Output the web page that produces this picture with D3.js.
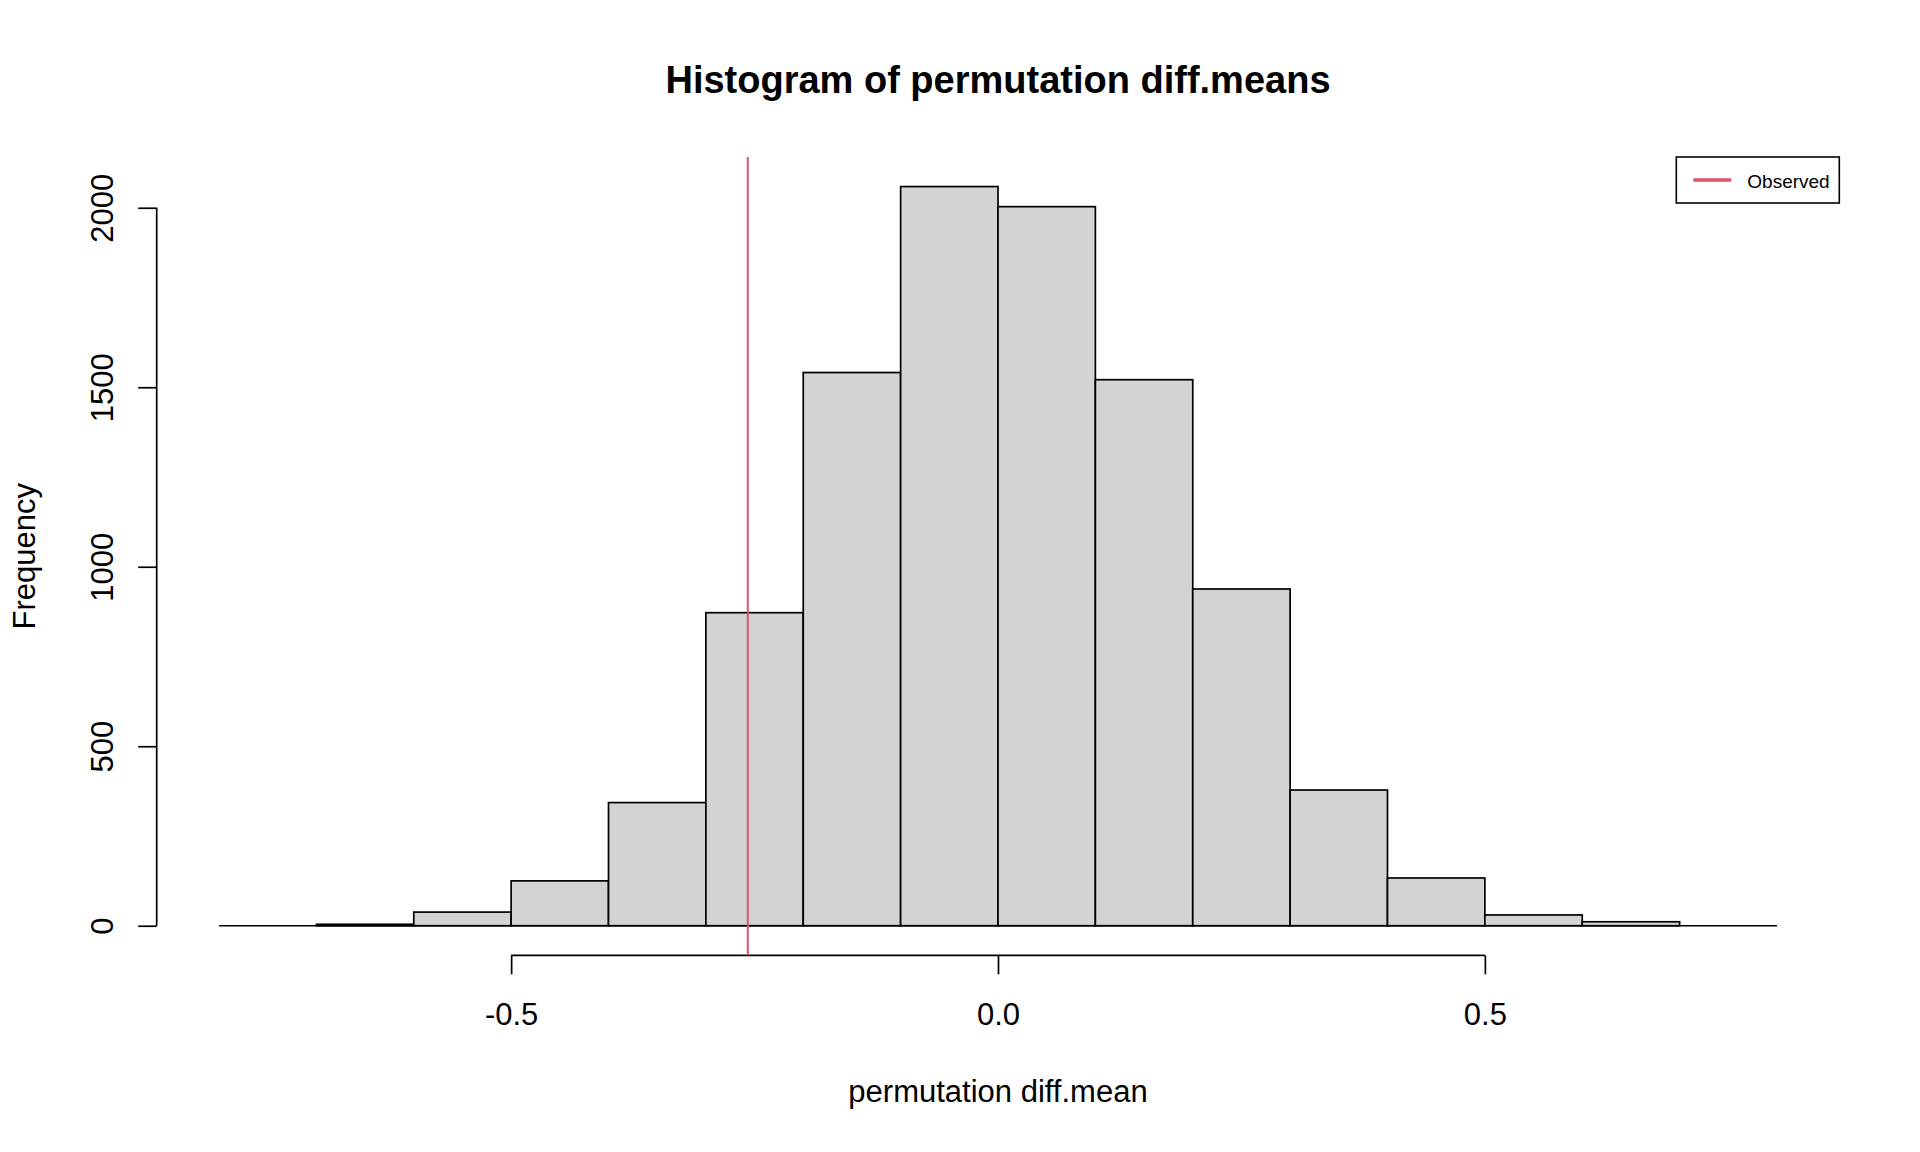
<!doctype html>
<html>
  <head>
    <script src="https://cdnjs.cloudflare.com/ajax/libs/d3/7.8.5/d3.min.js"></script>
    <style>
      body { margin: 0; background: #fff; }
      text { font-family: "Liberation Sans", Arial, sans-serif; fill: #000; }
    </style>
  </head>
  <body>
    <svg width="1920" height="1152"></svg>
    <script>
        // histogram bins (left edges, width 0.1) and counts
        var binStarts = [-0.7, -0.6, -0.5, -0.4, -0.3, -0.2, -0.1, 0.0, 0.1, 0.2, 0.3, 0.4, 0.5, 0.6];
        var counts = [4, 38, 125, 343, 872, 1541, 2059, 2003, 1521, 938, 378, 133, 30, 11];
        var binWidth = 0.1;
        var observed = -0.257;

        var xTicks = [-0.5, 0.0, 0.5];
        var yTicks = [0, 500, 1000, 1500, 2000];
        var xLim = [-0.8, 0.8];

        var svg = d3.select("svg");

        // plot region, R style 4% extension of the limits
        var pLeft = 156.7, pRight = 1839.3, pTop = 157, pBottom = 955.3;
        var xPad = (xLim[1] - xLim[0]) * 0.04;
        var yMax = d3.max(counts);
        var yPad = yMax * 0.04;

        var xScale = d3.scaleLinear().domain([xLim[0] - xPad, xLim[1] + xPad]).range([pLeft, pRight]);
        var yScale = d3.scaleLinear().domain([-yPad, yMax + yPad]).range([pBottom, pTop]);

        // bars
        svg.append("g")
            .selectAll("rect")
            .data(counts)
            .enter()
            .append("rect")
            .attr("x", (d, i) => xScale(binStarts[i]))
            .attr("width", (d, i) => xScale(binStarts[i] + binWidth) - xScale(binStarts[i]))
            .attr("y", d => yScale(d))
            .attr("height", d => yScale(0) - yScale(d))
            .style("fill", "#D3D3D3")
            .style("stroke", "#000")
            .style("stroke-width", 1.7);

        // baseline
        svg.append("line")
            .attr("x1", xScale(xLim[0])).attr("x2", xScale(xLim[1]))
            .attr("y1", yScale(0)).attr("y2", yScale(0))
            .style("stroke", "#000").style("stroke-width", 1.7);

        // x axis
        var xAxis = d3.axisBottom(xScale)
            .tickValues(xTicks)
            .tickFormat(d => d.toFixed(1))
            .tickSize(19)
            .tickPadding(29);

        var gx = svg.append("g")
            .attr("transform", "translate(0," + pBottom + ")")
            .call(xAxis);
        gx.select(".domain").remove();
        gx.selectAll("line").style("stroke-width", 1.7);
        gx.selectAll("text").style("font-size", "31px").attr("fill", "#000");
        gx.append("line")
            .attr("x1", xScale(xTicks[0])).attr("x2", xScale(xTicks[xTicks.length - 1]))
            .style("stroke", "#000").style("stroke-width", 1.7);

        // y axis
        var yAxis = d3.axisLeft(yScale)
            .tickValues(yTicks)
            .tickFormat(d => String(d))
            .tickSize(18.5);

        var gy = svg.append("g")
            .attr("transform", "translate(" + pLeft + ",0)")
            .call(yAxis);
        gy.select(".domain").remove();
        gy.selectAll("line").style("stroke-width", 1.7);
        gy.selectAll("text")
            .attr("x", null)
            .attr("dy", null)
            .attr("text-anchor", "middle")
            .attr("transform", "translate(-44,0) rotate(-90)")
            .attr("fill", "#000")
            .style("font-size", "31px");
        gy.append("line")
            .attr("y1", yScale(yTicks[0])).attr("y2", yScale(yTicks[yTicks.length - 1]))
            .style("stroke", "#000").style("stroke-width", 1.7);

        // observed value
        svg.append("line")
            .attr("x1", xScale(observed)).attr("x2", xScale(observed))
            .attr("y1", pTop).attr("y2", pBottom)
            .style("stroke", "#DF536B").style("stroke-width", 2);

        // titles
        var midX = (pLeft + pRight) / 2;
        svg.append("text")
            .attr("x", midX).attr("y", 93)
            .attr("text-anchor", "middle")
            .style("font-size", "38px").style("font-weight", "bold")
            .text("Histogram of permutation diff.means");

        svg.append("text")
            .attr("x", midX).attr("y", 1102)
            .attr("text-anchor", "middle")
            .style("font-size", "31px")
            .text("permutation diff.mean");

        svg.append("text")
            .attr("transform", "translate(35," + (pTop + pBottom) / 2 + ") rotate(-90)")
            .attr("text-anchor", "middle")
            .style("font-size", "31px")
            .text("Frequency");

        // legend
        var lg = svg.append("g").attr("transform", "translate(" + (pRight - 163) + "," + pTop + ")");
        lg.append("rect")
            .attr("width", 163).attr("height", 46)
            .style("fill", "#fff").style("stroke", "#000").style("stroke-width", 1.6);
        lg.append("line")
            .attr("x1", 17).attr("x2", 55).attr("y1", 23).attr("y2", 23)
            .style("stroke", "#DF536B").style("stroke-width", 3.5);
        lg.append("text")
            .attr("x", 71).attr("y", 31)
            .style("font-size", "19px")
            .text("Observed");
    </script>
  </body>
</html>
